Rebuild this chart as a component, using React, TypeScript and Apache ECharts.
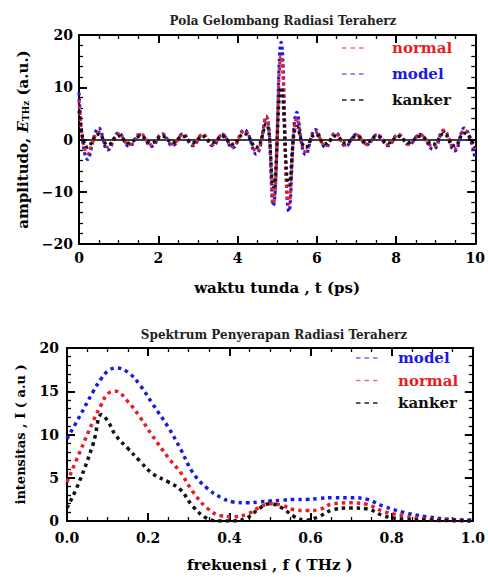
import React, { useEffect, useRef } from "react";
import * as echarts from "echarts";

// ---------- Top plot: time-domain THz pulse (extrema) ----------
const TIME_PS = [
  0, 0.22, 0.5, 0.73, 1.0, 1.26, 1.55, 1.83, 2.1, 2.36, 2.62, 2.87, 3.12, 3.37, 3.62, 3.87,
  4.17, 4.47, 4.72, 4.9, 5.1, 5.3, 5.5, 5.72, 5.97, 6.22, 6.48, 6.73, 7.0, 7.26, 7.52, 7.8,
  8.06, 8.32, 8.6, 8.94, 9.2, 9.48, 9.72, 10,
];
const AMP_NORMAL = [
  7.5, -2.7, 1.4, -1.5, 1.1, -1.0, 1.1, -1.0, 0.9, -0.9, 0.9, -1.0, 1.0, -1.0, 0.9, -1.3,
  1.6, -2.3, 4.5, -12.3, 16.0, -12.3, 4.0, -2.3, 1.4, -1.2, 1.1, -1.1, 0.9, -0.9, 0.9, -1.0,
  0.9, -0.9, 0.9, -1.4, 1.8, -1.8, 1.8, -2.0,
];
const AMP_MODEL = [
  9.0, -3.8, 2.2, -2.0, 1.3, -1.3, 0.9, -1.3, 1.1, -1.2, 1.1, -1.2, 0.9, -1.2, 1.0, -1.6,
  1.9, -2.8, 4.3, -12.7, 18.6, -13.8, 5.2, -2.9, 1.9, -1.5, 1.3, -1.3, 1.0, -1.0, 0.9, -1.2,
  1.0, -1.0, 1.0, -1.9, 1.5, -2.2, 2.2, -3.8,
];
const AMP_KANKER = [
  5.5, -1.5, 1.0, -1.0, 0.7, -0.7, 0.6, -0.6, 0.6, -0.6, 0.6, -0.6, 0.6, -0.6, 0.6, -0.9,
  1.1, -1.5, 3.0, -9.0, 10.0, -8.7, 2.5, -1.5, 1.0, -0.8, 0.7, -0.7, 0.6, -0.6, 0.6, -0.7,
  0.6, -0.6, 0.6, -0.9, 1.1, -1.2, 1.2, -1.5,
];

// ---------- Bottom plot: absorption spectrum ----------
const FREQ_THZ = [
  0, 0.03, 0.065, 0.085, 0.1, 0.12, 0.15, 0.18, 0.21, 0.25, 0.28, 0.31, 0.345, 0.38, 0.41,
  0.445, 0.475, 0.5, 0.53, 0.56, 0.59, 0.62, 0.655, 0.7, 0.74, 0.78, 0.83, 0.885, 0.94, 1.0,
];
const INT_MODEL = [
  9.5, 12, 15, 16.5, 17.3, 17.7, 17.2, 15.7, 13.6, 10.8, 8.3, 5.6, 3.8, 2.7, 2.2,
  2.1, 2.2, 2.3, 2.4, 2.5, 2.5, 2.6, 2.7, 2.7, 2.5, 1.7, 1.0, 0.5, 0.2, 0.1,
];
const INT_NORMAL = [
  4.5, 7.8, 11.6, 13.5, 14.7, 15.0, 13.8, 12.0, 9.9, 7.3, 5.6, 3.4, 1.5, 0.6, 0.5,
  0.8, 1.6, 2.0, 1.8, 1.3, 1.2, 1.3, 2.0, 2.1, 1.9, 1.1, 0.6, 0.2, 0.1, 0,
];
const INT_KANKER = [
  1.5, 4.5, 9.0, 12.3, 11.6, 9.9, 8.4, 6.9, 5.5, 4.5, 3.6, 1.7, 0.3, 0.0, 0.0,
  0.4, 1.5, 2.0, 1.5, 0.5, 0.1, 0.5, 1.3, 1.5, 1.4, 0.6, 0.2, 0.1, 0.05, 0,
];

const TOP_X_TICKS = [0, 10, 2];
const TOP_Y_TICKS = [-20, 20, 10];
const TOP_ZERO_LINE = [-20, 20, 20];
const BOT_X_TICKS = [0, 1, 0.2];
const BOT_Y_TICKS = [0, 20, 5];

const TOP_LEGEND = ["normal", "model", "kanker"];
const BOT_LEGEND = ["model", "normal", "kanker"];

const RED = "#e61e28";
const BLUE = "#1a1ae6";
const BLACK = "#111111";
const COLORS: Record<string, string> = { normal: RED, model: BLUE, kanker: BLACK };
const LEGEND_LINE: Record<string, string> = { normal: "#f07070", model: "#6a6af0", kanker: "#222222" };

const FONT = "DejaVu Serif";

const pairs = (xs: number[], ys: number[]) => xs.map((x, i) => [x, ys[i]]);
const minus = (s: string) => s.replace("-", "\u2212");

function makeAxis(ticks: number[], position: string, minorSplit: number, label: any) {
  return {
    type: "value",
    position,
    min: ticks[0],
    max: ticks[1],
    interval: ticks[2],
    splitLine: { show: false },
    axisLine: { show: true, onZero: false, lineStyle: { color: "#000", width: 2 } },
    axisTick: { show: true, inside: true, length: 8, lineStyle: { color: "#000", width: 2 } },
    minorTick: { show: true, splitNumber: minorSplit, length: 4, lineStyle: { color: "#000", width: 1.3 } },
    axisLabel: label,
  };
}

const tickLabel = (margin: number, fmt: (v: number) => string) => ({
  show: true,
  margin,
  color: "#000",
  fontFamily: FONT,
  fontWeight: "bold",
  fontSize: 14,
  formatter: fmt,
});

const titleStyle = { fontFamily: FONT, fontWeight: "bold", fontSize: 15, color: "#000" };

function legendGraphics(names: string[], y0: number, dy: number, lx1: number, lx2: number, tx0: number) {
  const out: any[] = [];
  names.forEach((n, i) => {
    const y = y0 + i * dy;
    out.push({
      type: "line",
      shape: { x1: lx1, y1: y, x2: lx2, y2: y },
      style: { stroke: LEGEND_LINE[n], lineWidth: 1.6, lineDash: [4.5, 4] },
    });
    out.push({
      type: "text",
      x: tx0,
      y,
      style: { text: n, fill: COLORS[n], font: `bold 15px "${FONT}"`, verticalAlign: "middle" },
    });
  });
  return out;
}

function topOption() {
  const tx: any = makeAxis(TOP_X_TICKS, "bottom", 4, tickLabel(7, (v) => String(v)));
  const tx2: any = makeAxis(TOP_X_TICKS, "top", 4, { show: false });
  const ty: any = makeAxis(TOP_Y_TICKS, "left", 5, tickLabel(6, (v) => minus(String(v))));
  const ty2: any = makeAxis(TOP_Y_TICKS, "right", 5, { show: false });
  // extra hidden axis whose only split line is the zero line
  const tyZero: any = {
    type: "value",
    position: "left",
    min: TOP_ZERO_LINE[0],
    max: TOP_ZERO_LINE[1],
    interval: TOP_ZERO_LINE[2],
    axisLine: { show: false, onZero: false },
    axisTick: { show: false },
    axisLabel: { show: false },
    splitLine: { show: true, lineStyle: { color: "#000", width: 1.5 } },
  };
  Object.assign(tx, { name: "waktu tunda , t (ps)", nameLocation: "middle", nameGap: 36, nameTextStyle: titleStyle });
  Object.assign(ty, {
    name: "{a|amplitudo, }{e|E}{s|THz}{a| (a.u.)}",
    nameLocation: "middle",
    nameGap: 48,
    nameRotate: 90,
    nameTextStyle: {
      ...titleStyle,
      rich: {
        a: { fontFamily: FONT, fontWeight: "bold", fontSize: 15, color: "#000" },
        e: { fontFamily: FONT, fontWeight: "bold", fontStyle: "italic", fontSize: 15, color: "#000" },
        s: { fontFamily: FONT, fontWeight: "bold", fontSize: 9, color: "#000", verticalAlign: "bottom", padding: [7, 0, 0, 0] },
      },
    },
  });
  const dash = { type: [3, 3], width: 3.2, cap: "butt" };
  const series = [
    { name: "model", data: pairs(TIME_PS, AMP_MODEL) },
    { name: "normal", data: pairs(TIME_PS, AMP_NORMAL) },
    { name: "kanker", data: pairs(TIME_PS, AMP_KANKER) },
  ].map((s) => ({
    type: "line",
    name: s.name,
    data: s.data,
    xAxisIndex: 0,
    yAxisIndex: 0,
    showSymbol: false,
    symbol: "none",
    smooth: 0.45,
    lineStyle: { ...dash, color: COLORS[s.name] },
  }));
  return {
    animation: false,
    title: {
      text: "Pola Gelombang Radiasi Teraherz",
      left: 278,
      top: 10,
      textAlign: "center",
      textStyle: { fontFamily: FONT, fontWeight: "bold", fontSize: 12, color: "#222" },
    },
    grid: { left: 79, top: 35, width: 398, height: 211 },
    xAxis: [tx, tx2],
    yAxis: [ty, ty2, tyZero],
    series,
    graphic: legendGraphics(TOP_LEGEND, 48, 26, 342, 366, 392),
  };
}

function bottomOption() {
  const bx: any = makeAxis(BOT_X_TICKS, "bottom", 4, tickLabel(10, (v) => v.toFixed(1)));
  const bx2: any = makeAxis(BOT_X_TICKS, "top", 4, { show: false });
  const by: any = makeAxis(BOT_Y_TICKS, "left", 5, tickLabel(8, (v) => String(v)));
  const by2: any = makeAxis(BOT_Y_TICKS, "right", 5, { show: false });
  Object.assign(bx, { name: "frekuensi , f ( THz )", nameLocation: "middle", nameGap: 36, nameTextStyle: titleStyle });
  Object.assign(by, {
    name: "intensitas , I ( a.u )",
    nameLocation: "middle",
    nameGap: 40,
    nameRotate: 90,
    nameTextStyle: { ...titleStyle, fontSize: 13 },
  });
  const dash = { type: [3.5, 4], width: 3.5, cap: "butt" };
  const series = [
    { name: "model", data: pairs(FREQ_THZ, INT_MODEL) },
    { name: "normal", data: pairs(FREQ_THZ, INT_NORMAL) },
    { name: "kanker", data: pairs(FREQ_THZ, INT_KANKER) },
  ].map((s) => ({
    type: "line",
    name: s.name,
    data: s.data,
    showSymbol: false,
    symbol: "none",
    smooth: 0.4,
    lineStyle: { ...dash, color: COLORS[s.name] },
  }));
  return {
    animation: false,
    title: {
      text: "Spektrum Penyerapan Radiasi Teraherz",
      left: 269,
      top: 24,
      textAlign: "center",
      textStyle: { fontFamily: FONT, fontWeight: "bold", fontSize: 12, color: "#222" },
    },
    grid: { left: 67, top: 48, width: 406, height: 179 },
    xAxis: [bx, bx2],
    yAxis: [by, by2],
    series,
    graphic: legendGraphics(BOT_LEGEND, 58, 22.5, 356, 379, 398),
  };
}

function Chart({ option, top, height }: { option: () => any; top: number; height: number }) {
  const ref = useRef<HTMLDivElement>(null);
  useEffect(() => {
    if (!ref.current) return;
    const chart = echarts.init(ref.current, undefined, { renderer: "svg" });
    chart.setOption(option());
    return () => chart.dispose();
  }, [option]);
  return (
    <div
      ref={ref}
      style={{ position: "absolute", left: 0, top, width: 488, height, background: "#fff" }}
    />
  );
}

export default function App() {
  return (
    <div style={{ position: "absolute", left: 0, top: 0, width: 488, height: 577, background: "#fff" }}>
      <Chart option={topOption} top={0} height={300} />
      <Chart option={bottomOption} top={300} height={277} />
    </div>
  );
}
